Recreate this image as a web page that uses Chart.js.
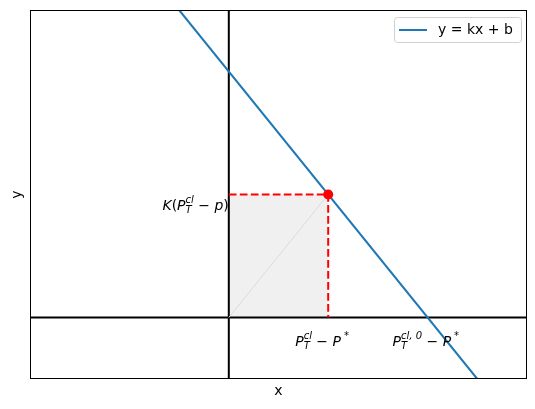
<!DOCTYPE html>
<html>
<head>
<meta charset="utf-8">
<script src="https://cdn.jsdelivr.net/npm/chart.js@4"></script>
<style>
  body { margin: 0; background: #fff; }
  #wrap { width: 535px; height: 409px; position: relative; }
</style>
</head>
<body>
<div id="wrap"><canvas id="chart"></canvas></div>
<script>
// Data
const xRange = [-2, 3];
const yRange = [-0.5, 2.5];
const lineX = [-0.5, 2.5];
const lineY = [2.5, -0.5];
const pointX = [1];
const pointY = [1];
const boxX = [0, 0, 1, 1];
const boxY = [0, 1, 1, 0];
const diagX = [0, 1];
const diagY = [0, 1];
const dashX = [0, 1, 1];
const dashY = [1, 1, 0];
const legendLabel = 'y = kx + b';

const zip = (xs, ys) => xs.map((x, i) => ({ x: x, y: ys[i] }));

// Mathtext-ish drawing
const FS = 14;
const SS = 10;
function fontFor(p, size) {
  return (p.i ? 'italic ' : '') + size + 'px "DejaVu Sans"';
}
function measureParts(ctx, parts) {
  let w = 0;
  parts.forEach(p => {
    ctx.font = fontFor(p, FS);
    let pw = ctx.measureText(p.t).width;
    let sw = 0;
    ctx.font = 'italic ' + SS + 'px "DejaVu Sans"';
    if (p.sup) sw = Math.max(sw, ctx.measureText(p.sup).width + (p.supPad || 0));
    if (p.sub) sw = Math.max(sw, ctx.measureText(p.sub).width);
    p._w = pw; p._sw = sw;
    w += pw + sw;
  });
  return w;
}
function drawParts(ctx, parts, x, y, align) {
  const w = measureParts(ctx, parts);
  let cx = align === 'right' ? x - w : align === 'center' ? x - w / 2 : x;
  ctx.fillStyle = '#000';
  ctx.textBaseline = 'alphabetic';
  ctx.textAlign = 'left';
  parts.forEach(p => {
    ctx.font = fontFor(p, FS);
    ctx.fillText(p.t, cx, y);
    cx += p._w;
    ctx.font = 'italic ' + SS + 'px "DejaVu Sans"';
    if (p.sup) ctx.fillText(p.sup, cx + (p.supPad || 0), y - 7);
    if (p.sub) ctx.fillText(p.sub, cx, y + 3);
    cx += p._sw;
  });
}

const labelK = [
  { t: 'K', i: true }, { t: '(' }, { t: 'P', i: true, sup: 'cl', sub: 'T' },
  { t: ' \u2212 ' }, { t: 'p', i: true }, { t: ')' }
];
const labelA = [
  { t: 'P', i: true, sup: 'cl', sub: 'T' }, { t: ' \u2212 ' }, { t: 'P', i: true, sup: '*', supPad: 3 }
];
const labelB = [
  { t: 'P', i: true, sup: 'cl, 0', sub: 'T' }, { t: ' \u2212 ' }, { t: 'P', i: true, sup: '*', supPad: 3 }
];

const decor = {
  id: 'decor',
  beforeDatasetsDraw(chart) {
    const { ctx, chartArea: a, scales: { x, y } } = chart;
    ctx.save();
    // shaded box
    ctx.fillStyle = '#f0f0f0';
    ctx.beginPath();
    boxX.forEach((v, i) => {
      const px = x.getPixelForValue(v), py = y.getPixelForValue(boxY[i]);
      if (i === 0) ctx.moveTo(px, py); else ctx.lineTo(px, py);
    });
    ctx.closePath();
    ctx.fill();
    // zero lines
    ctx.strokeStyle = '#000';
    ctx.lineWidth = 2;
    ctx.beginPath();
    ctx.moveTo(a.left, y.getPixelForValue(0));
    ctx.lineTo(a.right, y.getPixelForValue(0));
    ctx.moveTo(x.getPixelForValue(0), a.top);
    ctx.lineTo(x.getPixelForValue(0), a.bottom);
    ctx.stroke();
    ctx.restore();
  },
  afterDraw(chart) {
    const { ctx, chartArea: a, scales: { x, y } } = chart;
    ctx.save();
    // frame
    ctx.strokeStyle = '#000';
    ctx.lineWidth = 1;
    ctx.strokeRect(a.left + 0.5, a.top + 0.5, a.right - a.left - 1, a.bottom - a.top - 1);

    // annotations
    drawParts(ctx, labelK, x.getPixelForValue(0), y.getPixelForValue(1) + 15, 'right');
    drawParts(ctx, labelA, x.getPixelForValue(1) - 33, 346, 'left');
    drawParts(ctx, labelB, x.getPixelForValue(2) - 35, 346, 'left');

    // axis titles
    ctx.font = '14px "DejaVu Sans"';
    ctx.fillStyle = '#000';
    ctx.textAlign = 'center';
    ctx.textBaseline = 'alphabetic';
    ctx.fillText('x', (a.left + a.right) / 2, 395);
    ctx.save();
    ctx.translate(21, (a.top + a.bottom) / 2);
    ctx.rotate(-Math.PI / 2);
    ctx.fillText('y', 0, 0);
    ctx.restore();

    // legend
    const lx = 394.5, ly = 17.5, lw = 127, lh = 25;
    ctx.fillStyle = 'rgba(255,255,255,0.8)';
    ctx.strokeStyle = '#d0d0d0';
    ctx.lineWidth = 1;
    ctx.beginPath();
    ctx.roundRect(lx, ly, lw, lh, 3);
    ctx.fill();
    ctx.stroke();
    ctx.strokeStyle = '#1f77b4';
    ctx.lineWidth = 2;
    ctx.beginPath();
    ctx.moveTo(399, 30);
    ctx.lineTo(427, 30);
    ctx.stroke();
    ctx.fillStyle = '#000';
    ctx.font = '14px "DejaVu Sans"';
    ctx.textAlign = 'left';
    ctx.textBaseline = 'middle';
    ctx.fillText(legendLabel, 438, 30);
    ctx.restore();
  }
};

new Chart(document.getElementById('chart'), {
  type: 'scatter',
  data: {
    datasets: [
      {
        data: zip(pointX, pointY), showLine: false, pointRadius: 5,
        pointBackgroundColor: '#ff0000', pointBorderColor: '#ff0000', pointBorderWidth: 0
      },
      {
        data: zip(dashX, dashY), showLine: true, borderColor: '#ff0000',
        borderWidth: 2, borderDash: [7.7, 3.3], pointRadius: 0
      },
      {
        label: legendLabel, data: zip(lineX, lineY), showLine: true,
        borderColor: '#1f77b4', borderWidth: 2, pointRadius: 0
      },
      {
        data: zip(diagX, diagY), showLine: true, borderColor: '#dcdcdc',
        borderWidth: 1, pointRadius: 0
      }
    ]
  },
  options: {
    responsive: true,
    maintainAspectRatio: false,
    animation: false,
    layout: { padding: { left: 30, right: 8, top: 10, bottom: 30 } },
    plugins: { legend: { display: false }, tooltip: { enabled: false } },
    scales: {
      x: { type: 'linear', min: xRange[0], max: xRange[1], display: false },
      y: { type: 'linear', min: yRange[0], max: yRange[1], display: false }
    }
  },
  plugins: [decor]
});
</script>
</body>
</html>
